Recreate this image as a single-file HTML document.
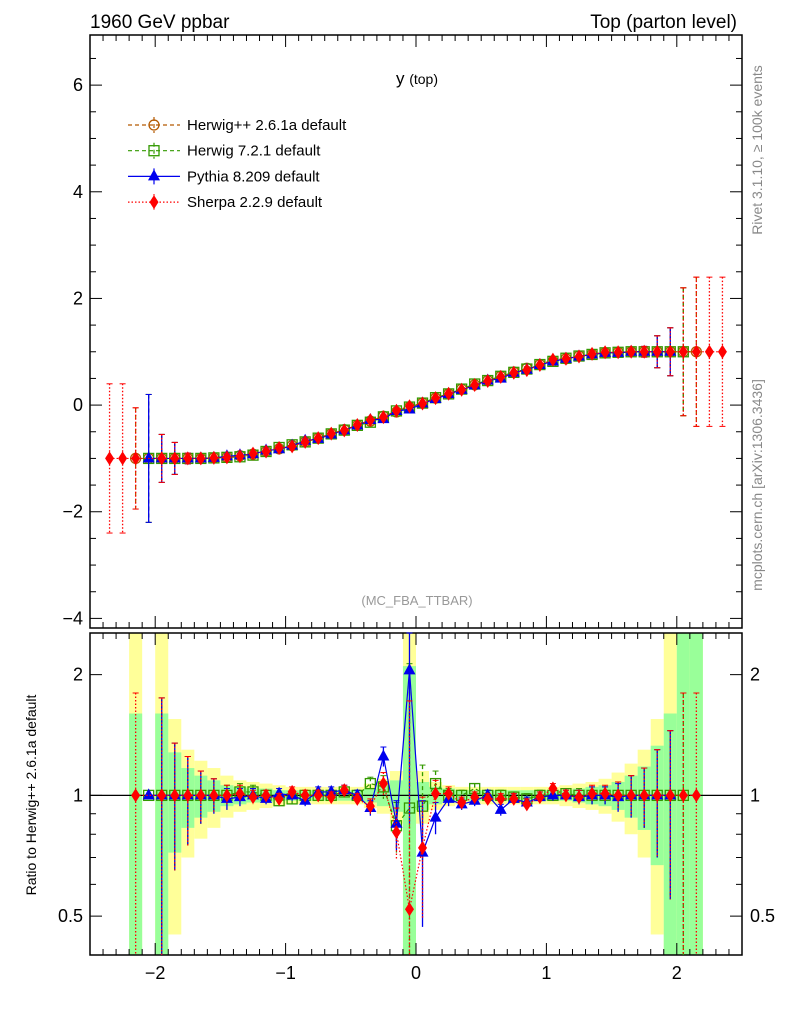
<!DOCTYPE html>
<html><head><meta charset="utf-8"><style>
body{margin:0;background:#fff;width:786px;height:1024px;overflow:hidden}
svg{font-family:"Liberation Sans",sans-serif}
</style></head><body>
<svg id="c" width="786" height="1024" xmlns="http://www.w3.org/2000/svg">
<text x="90" y="28" font-size="19">1960 GeV ppbar</text>
<text x="737" y="28" font-size="19" text-anchor="end">Top (parton level)</text>
<text x="417" y="84" font-size="17" text-anchor="middle">y <tspan font-size="14">(top)</tspan></text>
<text x="417" y="605" font-size="13" fill="#999" text-anchor="middle">(MC_FBA_TTBAR)</text>
<text transform="translate(762,150) rotate(-90)" font-size="14" fill="#888" text-anchor="middle">Rivet 3.1.10, ≥ 100k events</text>
<text transform="translate(762,485) rotate(-90)" font-size="14" fill="#888" text-anchor="middle">mcplots.cern.ch [arXiv:1306.3436]</text>
<text transform="translate(36,795) rotate(-90)" font-size="14" text-anchor="middle">Ratio to Herwig++ 2.6.1a default</text>
<g id="g"></g>
</svg>
<script>
const centers=[-2.35,-2.25,-2.15,-2.05,-1.95,-1.85,-1.75,-1.65,-1.55,-1.45,-1.35,-1.25,-1.15,-1.05,-0.95,-0.85,-0.75,-0.65,-0.55,-0.45,-0.35,-0.25,-0.15,-0.05,0.05,0.15,0.25,0.35,0.45,0.55,0.65,0.75,0.85,0.95,1.05,1.15,1.25,1.35,1.45,1.55,1.65,1.75,1.85,1.95,2.05,2.15,2.25,2.35];
const hppMain=[null,null,-1,-1,-1,-1,-1,-1,-0.99,-0.98,-0.95,-0.92,-0.87,-0.82,-0.76,-0.69,-0.62,-0.54,-0.46,-0.38,-0.30,-0.21,-0.13,-0.04,0.04,0.13,0.21,0.30,0.38,0.46,0.54,0.62,0.69,0.76,0.82,0.87,0.92,0.95,0.98,0.99,1,1,1,1,1,1,null,null];
const sherpaEdge=[-1,-1,null,null,null,null,null,null,null,null,null,null,null,null,null,null,null,null,null,null,null,null,null,null,null,null,null,null,null,null,null,null,null,null,null,null,null,null,null,null,null,null,null,null,null,null,1,1];
const mainErr=[1.4,1.4,0.95,1.2,0.45,0.3,0.1,0.05,0.03,0.03,0.03,0.03,0.03,0.03,0.03,0.03,0.03,0.03,0.03,0.03,0.03,0.03,0.03,0.04,0.04,0.03,0.03,0.03,0.03,0.03,0.03,0.03,0.03,0.03,0.03,0.03,0.03,0.03,0.03,0.03,0.05,0.1,0.3,0.45,1.2,1.4,1.4,1.4];
const h7Ratio=[null,null,null,1,1,1,1,1,1,1,1.02,1.02,1,0.97,0.98,1,1,1,1.02,1,1.07,1.05,0.84,0.93,0.94,1.07,1,1,1.04,1,1,0.99,0.98,1,1,1.01,1,1,1,1,1,1,1,1,1,null,null,null];
const pyRatio=[null,null,null,1,1,1,1,1,1,0.98,0.99,1,0.98,1.01,1,0.97,1.02,1.02,1.03,1,0.93,1.25,0.85,2.05,0.72,0.88,0.98,0.95,0.97,1,0.92,0.98,0.96,0.99,1,1,0.99,1,1,0.99,1,1,1,1,null,null,null,null];
const shRatio=[null,null,1,null,1,1,1,1,1,1,1.01,0.99,1,0.98,1.02,1,1,0.99,1.03,0.98,0.94,1.07,0.81,0.52,0.74,1.01,1.01,0.96,0.99,0.98,0.98,0.98,0.95,0.99,1.04,1,0.99,1.01,1.01,1,1,1,1,1,1,1,null,null];
const ratioErr=[0,0,0.8,0,0.75,0.35,0.25,0.15,0.1,0.06,0.05,0.04,0.03,0.03,0.03,0.03,0.03,0.03,0.03,0.03,0.04,0.07,0.12,1.2,0.25,0.08,0.04,0.03,0.03,0.03,0.03,0.03,0.03,0.03,0.03,0.03,0.04,0.05,0.05,0.08,0.12,0.17,0.3,0.45,0.8,0.8,0,0];
const yellowErr=[null,null,1.6,null,1.6,0.55,0.3,0.22,0.17,0.12,0.09,0.08,0.07,0.06,0.05,0.05,0.05,0.05,0.05,0.05,0.07,0.1,0.15,1.6,0.15,0.08,0.06,0.05,0.05,0.05,0.05,0.05,0.05,0.05,0.05,0.06,0.07,0.08,0.1,0.14,0.2,0.3,0.55,1.6,1.6,1.6,null,null];
const greenErr=[null,null,0.6,null,0.6,0.28,0.17,0.12,0.09,0.06,0.05,0.04,0.04,0.03,0.03,0.03,0.03,0.03,0.03,0.03,0.04,0.06,0.09,1.1,0.08,0.05,0.04,0.03,0.03,0.03,0.03,0.03,0.03,0.03,0.03,0.03,0.04,0.05,0.06,0.08,0.12,0.18,0.33,0.6,1.6,1.6,null,null];
const mainTicks=[-4,-2,0,2,4,6];
const ratioTicks=[0.5,1,2];
const xTicks=[-2,-1,0,1,2];

const L=90,R=742,MT=35,MB=628,RT=633,RB=955;
const X=v=>L+(v+2.5)/5*(R-L);
const YM=v=>MB-(v+4.18)/(6.94+4.18)*(MB-MT);
const lg=Math.log2, rLo=lg(0.40), rHi=lg(2.54);
const YR=v=>{let p=RB-(lg(Math.max(v,0.01))-rLo)/(rHi-rLo)*(RB-RT);return Math.max(RT,Math.min(RB,p));};
const g=document.getElementById('g');const NS='http://www.w3.org/2000/svg';
function el(t,a,p){const e=document.createElementNS(NS,t);for(const k in a)e.setAttribute(k,a[k]);(p||g).appendChild(e);return e;}
const hw=(R-L)/100;
centers.forEach((c,i)=>{
 if(yellowErr[i]!=null){const e=el('rect',{x:X(c)-hw,width:2*hw,y:YR(1+yellowErr[i]),height:YR(1-yellowErr[i])-YR(1+yellowErr[i]),fill:'#ffff99'});
 
 }
});
centers.forEach((c,i)=>{
 if(greenErr[i]!=null){const e=el('rect',{x:X(c)-hw,width:2*hw,y:YR(1+greenErr[i]),height:YR(1-greenErr[i])-YR(1+greenErr[i]),fill:'#99ff99'});
 
 }
});
el('line',{x1:L,x2:R,y1:YR(1),y2:YR(1),stroke:'#000','stroke-width':1.2});
function frame(top,bot,name){const f=el('rect',{x:L,y:top,width:R-L,height:bot-top,fill:'none',stroke:'#000','stroke-width':1.5});
 
 for(let k=-25;k<=25;k++){const v=k/10,x=X(v),len=(k%10==0)?12:6;
  el('line',{x1:x,x2:x,y1:bot,y2:bot-len,stroke:'#000'});el('line',{x1:x,x2:x,y1:top,y2:top+len,stroke:'#000'});}}
frame(MT,MB,'main-plot-frame');frame(RT,RB,'ratio-plot-frame');
for(let k=-8;k<=13;k++){const v=k/2,y=YM(v);if(y<MT||y>MB)continue;const len=(k%4==0)?12:6;
 el('line',{x1:L,x2:L+len,y1:y,y2:y,stroke:'#000'});el('line',{x1:R,x2:R-len,y1:y,y2:y,stroke:'#000'});}
mainTicks.forEach(v=>{const t=el('text',{x:L-7,y:YM(v)+6,'font-size':18,'text-anchor':'end'});t.textContent=v<0?'−'+(-v):v;
 });
[0.4,0.5,0.6,0.7,0.8,0.9,1,2].forEach(v=>{const y=YR(v),len=(v==0.5||v==1||v==2)?12:6;
 el('line',{x1:L,x2:L+len,y1:y,y2:y,stroke:'#000'});el('line',{x1:R,x2:R-len,y1:y,y2:y,stroke:'#000'});});
ratioTicks.forEach(v=>{const t=el('text',{x:L-7,y:YR(v)+6,'font-size':18,'text-anchor':'end'});t.textContent=v;
 
 const t2=el('text',{x:R+8,y:YR(v)+6,'font-size':18});t2.textContent=v;
 });
xTicks.forEach(v=>{const t=el('text',{x:X(v),y:979,'font-size':18,'text-anchor':'middle'});t.textContent=v<0?'−'+(-v):v;
 });
function marker(type,x,y,col){
 if(type=='circle')return el('circle',{cx:x,cy:y,r:5,fill:'none',stroke:col,'stroke-width':1.3});
 if(type=='square')return el('rect',{x:x-5,y:y-5,width:10,height:10,fill:'none',stroke:col,'stroke-width':1.3});
 if(type=='tri')return el('polygon',{points:`${x},${y-7} ${x-6},${y+4} ${x+6},${y+4}`,fill:col});
 return el('polygon',{points:`${x},${y-7} ${x-4.5},${y} ${x},${y+7} ${x+4.5},${y}`,fill:col});}
const series=[
 {n:'herwig-pp',col:'#b35900',dash:'4,3',m:'circle',r:null},
 {n:'herwig7',col:'#339900',dash:'4,3',m:'square',r:h7Ratio},
 {n:'pythia8',col:'#0000ee',dash:'',m:'tri',r:pyRatio},
 {n:'sherpa',col:'#ff0000',dash:'1.5,2',m:'dia',r:shRatio}];
series.forEach(s=>{
 const pts=[],rpts=[];
 centers.forEach((c,i)=>{
  let v=hppMain[i];let rv=1;
  if(s.r){rv=s.r[i];if(s.n=='sherpa'&&sherpaEdge[i]!=null){v=sherpaEdge[i];rv=null;}else if(rv==null||v==null)return; else v=v*rv;}
  else if(v==null)return;
  pts.push([X(c),YM(v),mainErr[i]]);
  if(s.n=='herwig-pp'&&(i<4||i>43))return;
  if(rv!=null)rpts.push([X(c),YR(rv),rv,ratioErr[i]]);
  else if(s.n=='herwig-pp')rpts.push([X(c),YR(1),1,ratioErr[i]]);
 });
 const lm=el('polyline',{points:pts.map(p=>p[0]+','+p[1]).join(' '),fill:'none',stroke:s.col,'stroke-width':1.2,'stroke-dasharray':s.dash});
 
 pts.forEach(p=>{const y1=Math.max(MT,p[1]-p[2]*53.3),y2=Math.min(MB,p[1]+p[2]*53.3);
  el('line',{x1:p[0],x2:p[0],y1:y1,y2:y2,stroke:s.col,'stroke-width':1.3,'stroke-dasharray':s.dash});
  el('line',{x1:p[0]-3,x2:p[0]+3,y1:y1,y2:y1,stroke:s.col});el('line',{x1:p[0]-3,x2:p[0]+3,y1:y2,y2:y2,stroke:s.col});
  const mk=marker(s.m,p[0],p[1],s.col);
  });
 if(s.n=='herwig-pp')return;
 const lr=el('polyline',{points:rpts.map(p=>p[0]+','+p[1]).join(' '),fill:'none',stroke:s.col,'stroke-width':1.2,'stroke-dasharray':s.dash});
 
 rpts.forEach(p=>{const y1=YR(p[2]+p[3]),y2=YR(p[2]-p[3]);
  el('line',{x1:p[0],x2:p[0],y1:y1,y2:y2,stroke:s.col,'stroke-width':1.3,'stroke-dasharray':s.dash});
  el('line',{x1:p[0]-3,x2:p[0]+3,y1:y1,y2:y1,stroke:s.col});
  const mk=marker(s.m,p[0],p[1],s.col);
  });
});
const legNames=['Herwig++ 2.6.1a default','Herwig 7.2.1 default','Pythia 8.209 default','Sherpa 2.2.9 default'];
series.forEach((s,i)=>{const y=125+i*25.7;
 const gg=el('g',{});
 el('line',{x1:128,x2:180,y1:y,y2:y,stroke:s.col,'stroke-width':1.2,'stroke-dasharray':s.dash},gg);
 el('line',{x1:154,x2:154,y1:y-8,y2:y+8,stroke:s.col,'stroke-width':1.2,'stroke-dasharray':s.dash},gg);
 const m=marker(s.m,154,y,s.col);gg.appendChild(m);
 const t=el('text',{x:187,y:y+5,'font-size':15},gg);t.textContent=legNames[i];});
</script>
</body></html>
